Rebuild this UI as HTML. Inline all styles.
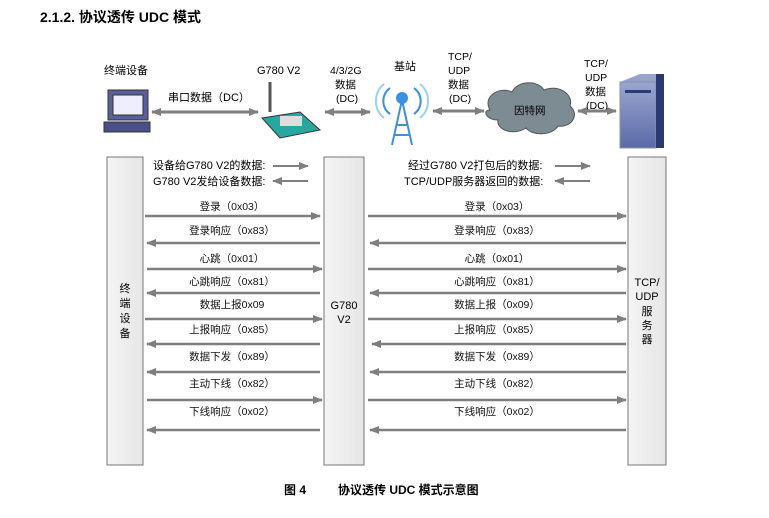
<!DOCTYPE html>
<html><head><meta charset="utf-8"><style>
body{margin:0;background:#fff;width:769px;height:513px;overflow:hidden;font-family:"Liberation Sans","Noto Sans CJK SC",sans-serif}
</style></head><body>
<svg width="769" height="513" xmlns="http://www.w3.org/2000/svg" font-family="Liberation Sans, Noto Sans CJK SC, sans-serif">
<defs>
<marker id="a" markerWidth="10" markerHeight="10" refX="9" refY="5" orient="auto-start-reverse" markerUnits="userSpaceOnUse"><path d="M0,1 L10,5 L0,9 Z" fill="#7f7f7f"/></marker>
<linearGradient id="bx" x1="0" x2="1"><stop offset="0" stop-color="#f4f4f4"/><stop offset="1" stop-color="#e6e6e6"/></linearGradient>
<linearGradient id="sv" x1="0" x2="0" y1="0" y2="1"><stop offset="0" stop-color="#9aa6d0"/><stop offset="1" stop-color="#5a6aa8"/></linearGradient>
</defs>
<text x="40" y="22" font-size="14" font-weight="bold" fill="#000">2.1.2. 协议透传 UDC 模式</text>

<!-- top icons -->
<text x="104" y="74" font-size="11">终端设备</text>
<rect x="108" y="90" width="40" height="30" fill="#5a5f9a" stroke="#333"/>
<rect x="113" y="95" width="30" height="20" fill="#eef" stroke="#333"/>
<rect x="104" y="122" width="46" height="10" fill="#4a4f88" stroke="#333"/>
<line x1="152" y1="112" x2="258" y2="112" stroke="#7f7f7f" stroke-width="3" marker-start="url(#a)" marker-end="url(#a)"/>
<text x="168" y="101" font-size="11">串口数据（DC）</text>
<text x="257" y="74" font-size="11">G780 V2</text>
<line x1="270" y1="82" x2="270" y2="112" stroke="#555" stroke-width="3"/>
<polygon points="262,118 300,112 320,130 280,138" fill="#2aa6a0" stroke="#333"/>
<rect x="280" y="116" width="22" height="10" fill="#ddd"/>
<text x="330" y="74" font-size="10.5">4/3/2G</text>
<text x="335" y="88" font-size="10.5">数据</text>
<text x="336" y="102" font-size="10.5">(DC)</text>
<line x1="325" y1="112" x2="370" y2="112" stroke="#7f7f7f" stroke-width="3" marker-start="url(#a)" marker-end="url(#a)"/>
<text x="394" y="70" font-size="11">基站</text>
<g fill="none" stroke="#3d8fe0" stroke-width="2">
<path d="M390,88 a16,16 0 0 0 0,26"/><path d="M384,84 a22,22 0 0 0 0,34" stroke="#9cd0ef"/>
<path d="M414,88 a16,16 0 0 1 0,26"/><path d="M420,84 a22,22 0 0 1 0,34" stroke="#9cd0ef"/>
<path d="M402,100 L392,145 M402,100 L412,145 M396,125 L408,125 M394,135 L410,135"/>
</g>
<circle cx="402" cy="98" r="6" fill="#3d8fe0"/>
<text x="448" y="60" font-size="10.5">TCP/</text>
<text x="448" y="74" font-size="10.5">UDP</text>
<text x="448" y="88" font-size="10.5">数据</text>
<text x="449" y="102" font-size="10.5">(DC)</text>
<line x1="433" y1="111" x2="484" y2="111" stroke="#7f7f7f" stroke-width="3" marker-start="url(#a)" marker-end="url(#a)"/>
<path d="M490,110 c-8,-14 10,-24 22,-18 c6,-12 26,-12 32,-2 c14,-6 30,4 26,16 c10,8 2,22 -12,20 c-6,10 -26,10 -32,2 c-12,8 -30,2 -28,-8 c-12,0 -16,-10 -8,-10z" fill="#7d8b92" stroke="#555"/>
<text x="514" y="114" font-size="10.5">因特网</text>
<text x="584" y="67" font-size="10.5">TCP/</text>
<text x="585" y="81" font-size="10.5">UDP</text>
<text x="585" y="95" font-size="10.5">数据</text>
<text x="586" y="109" font-size="10.5">(DC)</text>
<line x1="578" y1="111" x2="616" y2="111" stroke="#7f7f7f" stroke-width="3" marker-start="url(#a)" marker-end="url(#a)"/>
<polygon points="620,82 640,74 664,74 664,148 620,148" fill="url(#sv)"/>
<rect x="620" y="82" width="36" height="66" fill="url(#sv)" stroke="#8890b0"/>
<rect x="625" y="90" width="26" height="3" fill="#2a3a7a"/>
<rect x="656" y="74" width="8" height="74" fill="#2a3a70"/>

<!-- lifelines -->
<rect x="107" y="157" width="36" height="308" fill="url(#bx)" stroke="#777"/>
<rect x="324" y="157" width="40" height="308" fill="url(#bx)" stroke="#777"/>
<rect x="628" y="157" width="38" height="308" fill="url(#bx)" stroke="#777"/>
<g font-size="11" text-anchor="middle">
<text x="125" y="292">终</text><text x="125" y="307">端</text><text x="125" y="322">设</text><text x="125" y="337">备</text>
<text x="344" y="309">G780</text><text x="344" y="323">V2</text>
<text x="647" y="286">TCP/</text><text x="647" y="300">UDP</text><text x="647" y="315">服</text><text x="647" y="329">务</text><text x="647" y="343">器</text>
</g>

<g font-size="11" fill="#000">
<text x="153" y="169">设备给G780 V2的数据:</text>
<text x="153" y="185">G780 V2发给设备数据:</text>
<text x="408" y="169">经过G780 V2打包后的数据:</text>
<text x="404" y="185">TCP/UDP服务器返回的数据:</text>
</g>
<g stroke="#7f7f7f" stroke-width="2">
<line x1="273" y1="166" x2="308" y2="166" marker-end="url(#a)"/>
<line x1="308" y1="181" x2="273" y2="181" marker-end="url(#a)"/>
<line x1="555" y1="166" x2="590" y2="166" marker-end="url(#a)"/>
<line x1="590" y1="181" x2="555" y2="181" marker-end="url(#a)"/>
</g>

<g stroke="#7f7f7f" stroke-width="2.5">
<line x1="145" y1="216" x2="320" y2="216" marker-end="url(#a)"/>
<line x1="368" y1="216" x2="626" y2="216" marker-end="url(#a)"/>
<line x1="320" y1="243" x2="147" y2="243" marker-end="url(#a)"/>
<line x1="626" y1="243" x2="370" y2="243" marker-end="url(#a)"/>
<line x1="147" y1="269" x2="322" y2="269" marker-end="url(#a)"/>
<line x1="368" y1="269" x2="626" y2="269" marker-end="url(#a)"/>
<line x1="320" y1="293" x2="147" y2="293" marker-end="url(#a)"/>
<line x1="626" y1="293" x2="370" y2="293" marker-end="url(#a)"/>
<line x1="145" y1="319" x2="322" y2="319" marker-end="url(#a)"/>
<line x1="368" y1="319" x2="626" y2="319" marker-end="url(#a)"/>
<line x1="320" y1="344" x2="147" y2="344" marker-end="url(#a)"/>
<line x1="626" y1="344" x2="372" y2="344" marker-end="url(#a)"/>
<line x1="320" y1="372" x2="147" y2="372" marker-end="url(#a)"/>
<line x1="626" y1="372" x2="370" y2="372" marker-end="url(#a)"/>
<line x1="147" y1="400" x2="322" y2="400" marker-end="url(#a)"/>
<line x1="368" y1="400" x2="626" y2="400" marker-end="url(#a)"/>
<line x1="320" y1="430" x2="147" y2="430" marker-end="url(#a)"/>
<line x1="626" y1="430" x2="370" y2="430" marker-end="url(#a)"/>
</g>
<g font-size="10.5" text-anchor="middle" fill="#111">
<text x="232" y="210">登录（0x03）</text><text x="497" y="210">登录（0x03）</text>
<text x="232" y="234">登录响应（0x83）</text><text x="497" y="234">登录响应（0x83）</text>
<text x="232" y="262">心跳（0x01）</text><text x="497" y="262">心跳（0x01）</text>
<text x="232" y="285">心跳响应（0x81）</text><text x="497" y="285">心跳响应（0x81）</text>
<text x="232" y="308">数据上报0x09</text><text x="497" y="308">数据上报（0x09）</text>
<text x="232" y="333">上报响应（0x85）</text><text x="497" y="333">上报响应（0x85）</text>
<text x="232" y="360">数据下发（0x89）</text><text x="497" y="360">数据下发（0x89）</text>
<text x="232" y="387">主动下线（0x82）</text><text x="497" y="387">主动下线（0x82）</text>
<text x="232" y="415">下线响应（0x02）</text><text x="497" y="415">下线响应（0x02）</text>
</g>
<text x="284" y="494" font-size="12" font-weight="bold">图 4</text>
<text x="338" y="494" font-size="12" font-weight="bold">协议透传 UDC 模式示意图</text>
</svg>
</body></html>
